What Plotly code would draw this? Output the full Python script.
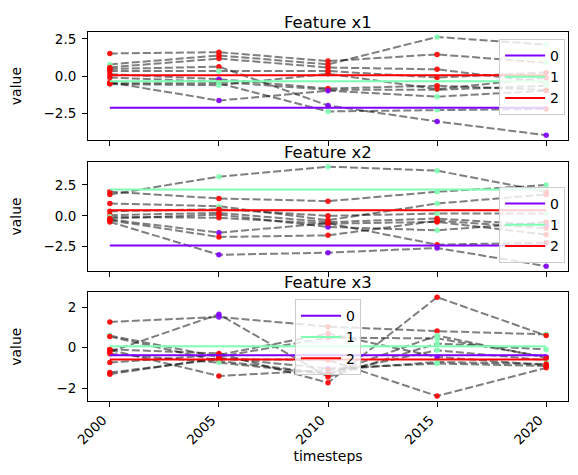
import numpy as np
import plotly.graph_objects as go
from plotly.subplots import make_subplots

# time axis
timesteps = [2000, 2005, 2010, 2015, 2020]

# feature x1: one row per series, one value per timestep
x1_values = [
    [1.52, 1.61, 1.01, 1.46, 0.90],
    [0.79, 1.39, 0.79, 2.63, 2.11],
    [0.59, 1.18, 0.58, 0.46, -0.42],
    [0.48, 0.64, -1.96, -3.03, -3.95],
    [0.35, 0.35, 0.35, -0.09, 0.25],
    [0.13, -0.20, -0.82, -0.64, -0.92],
    [-0.09, -0.38, -0.91, -0.91, -0.64],
    [-0.42, -1.63, -0.97, -1.37, -0.97],
    [-0.48, -0.48, -2.36, -2.25, -2.19],
    [-0.53, -0.60, 0.16, -0.86, -0.11],
]
x1_labels = [
    [2, 2, 2, 2, 1],
    [1, 2, 2, 1, 1],
    [2, 2, 2, 2, 1],
    [2, 2, 0, 0, 0],
    [2, 1, 2, 2, 2],
    [2, 0, 2, 2, 2],
    [2, 2, 2, 1, 1],
    [2, 0, 0, 1, 2],
    [2, 1, 1, 1, 2],
    [2, 1, 2, 2, 2],
]
x1_centers = [-2.12, -0.33, 0.07]

# feature x2
x2_values = [
    [1.73, 3.17, 3.98, 3.66, 1.95],
    [1.95, 1.41, 1.19, 1.95, 2.49],
    [1.00, 0.78, -0.35, 1.00, 1.73],
    [0.37, 0.54, 0.00, 0.19, 0.19],
    [0.05, 0.24, -0.50, -0.22, -0.76],
    [-0.08, -0.16, -0.63, -0.49, -1.52],
    [-0.22, 0.10, -0.90, -1.17, -0.50],
    [-0.30, -1.36, -0.60, -2.33, -2.17],
    [-0.36, -1.71, -1.58, -0.40, -1.00],
    [-0.49, -3.15, -2.98, -2.60, -4.07],
]
x2_labels = [
    [2, 1, 1, 1, 2],
    [2, 2, 2, 1, 1],
    [2, 1, 2, 1, 2],
    [2, 2, 2, 1, 1],
    [2, 2, 2, 2, 0],
    [1, 2, 2, 2, 2],
    [2, 2, 0, 1, 2],
    [2, 0, 2, 2, 2],
    [2, 2, 2, 2, 2],
    [2, 0, 0, 0, 0],
]
x2_centers = [-2.39, 2.14, 0.46]

# feature x3
x3_values = [
    [1.27, 1.52, 1.04, 0.82, 0.66],
    [-0.20, 1.65, -1.44, 0.21, -0.08],
    [0.60, -0.45, 0.50, 0.46, -0.45],
    [0.55, -0.65, -1.27, -0.12, -0.61],
    [-0.08, -0.28, -1.72, 2.49, 0.60],
    [-0.73, -0.35, 0.70, -0.45, -0.86],
    [-1.22, -0.56, -0.60, -2.38, -0.99],
    [-1.30, -0.50, -1.02, -0.78, -0.90],
    [-0.10, -1.39, -1.10, -0.70, -0.80],
    [-0.30, -0.73, -1.30, 0.60, -0.50],
]
x3_labels = [
    [2, 0, 2, 2, 1],
    [2, 0, 2, 1, 1],
    [1, 2, 2, 1, 0],
    [2, 2, 2, 1, 1],
    [2, 2, 2, 2, 2],
    [2, 2, 2, 0, 2],
    [2, 2, 2, 2, 2],
    [2, 2, 0, 1, 2],
    [2, 2, 2, 1, 2],
    [2, 1, 2, 1, 2],
]
x3_centers = [-0.37, 0.08, -0.58]

feature_names = ["Feature x1", "Feature x2", "Feature x3"]
cluster_names = ["0", "1", "2"]
cluster_colors = ["#8000ff", "#80ffb4", "#ff0000"]

features = [
    (x1_values, x1_labels, x1_centers),
    (x2_values, x2_labels, x2_centers),
    (x3_values, x3_labels, x3_centers),
]

font = "DejaVu Sans"
fig = make_subplots(rows=3, cols=1)

for row, (values, labels, centers) in enumerate(features, start=1):
    # dashed grey line for every series
    for series in values:
        fig.add_trace(go.Scatter(x=timesteps, y=series, mode="lines",
                                 line=dict(color="rgba(0,0,0,0.5)", width=2, dash="8px,3px"),
                                 showlegend=False, hoverinfo="skip"), row=row, col=1)
    # points coloured by cluster
    for series, lab in zip(values, labels):
        fig.add_trace(go.Scatter(x=timesteps, y=series, mode="markers",
                                 marker=dict(size=5.5, color=[cluster_colors[k] for k in lab],
                                             opacity=0.9, line=dict(width=0)),
                                 showlegend=False), row=row, col=1)
    # cluster centres
    legend_id = "legend" if row == 1 else f"legend{row}"
    for name, color, c in zip(cluster_names, cluster_colors, centers):
        fig.add_trace(go.Scatter(x=timesteps, y=[c] * len(timesteps), mode="lines",
                                 line=dict(color=color, width=2), name=name,
                                 legend=legend_id), row=row, col=1)

# axis ranges like matplotlib's 5% margins
domains = [[0.707, 1.0], [0.352, 0.6485], [0.0, 0.2946]]
dticks = [2.5, 2.5, 2]
formats = [".1f", ".1f", "d"]
standoffs = [25, 25, 37]
for i, (values, labels, centers) in enumerate(features):
    allv = np.concatenate([np.ravel(values), centers])
    lo, hi = allv.min(), allv.max()
    pad = 0.05 * (hi - lo)
    ax = "" if i == 0 else str(i + 1)
    fig.layout["yaxis" + ax].update(
        domain=domains[i], range=[lo - pad, hi + pad], dtick=dticks[i], tickformat=formats[i],
        title=dict(text="value", font=dict(size=14, color="black"), standoff=standoffs[i]),
        showgrid=False, zeroline=False, showline=True, linecolor="black", linewidth=1,
        mirror=True, ticks="outside", ticklen=5, tickcolor="black", ticklabelstandoff=3,
        tickfont=dict(size=13.5, color="black"))
    fig.layout["xaxis" + ax].update(
        range=[1999, 2021], tickvals=timesteps, showticklabels=(i == 2), tickangle=-45,
        ticklabelshift=-7,
        showgrid=False, zeroline=False, showline=True, linecolor="black", linewidth=1,
        mirror=True, ticks="outside", ticklen=5, tickcolor="black",
        tickfont=dict(size=13.5, color="black"))
    fig.add_annotation(text=feature_names[i], x=0.5, xref="paper", y=domains[i][1], yref="paper",
                       xanchor="center", yanchor="bottom", yshift=-2, showarrow=False,
                       font=dict(size=16.5, color="black"))

fig.layout.xaxis3.title = dict(text="timesteps", font=dict(size=14, color="black"), standoff=0)

legend_style = dict(bgcolor="rgba(255,255,255,0.8)", bordercolor="#cccccc", borderwidth=1,
                    font=dict(size=14, color="black"), itemwidth=40, tracegroupgap=0)
# the page body adds an 8px margin, so the figure is a bit smaller than the window
fig.update_layout(
    width=562, height=459,
    margin=dict(l=65, r=1, t=24, b=66),
    plot_bgcolor="white", paper_bgcolor="white",
    font=dict(family=font, color="black"),
    legend=dict(x=0.994, y=0.981, xanchor="right", yanchor="top", **legend_style),
    legend2=dict(x=0.994, y=0.374, xanchor="right", yanchor="bottom", **legend_style),
    legend3=dict(x=0.5, y=0.276, xanchor="center", yanchor="top", **legend_style),
)

fig.write_html("out.html")
